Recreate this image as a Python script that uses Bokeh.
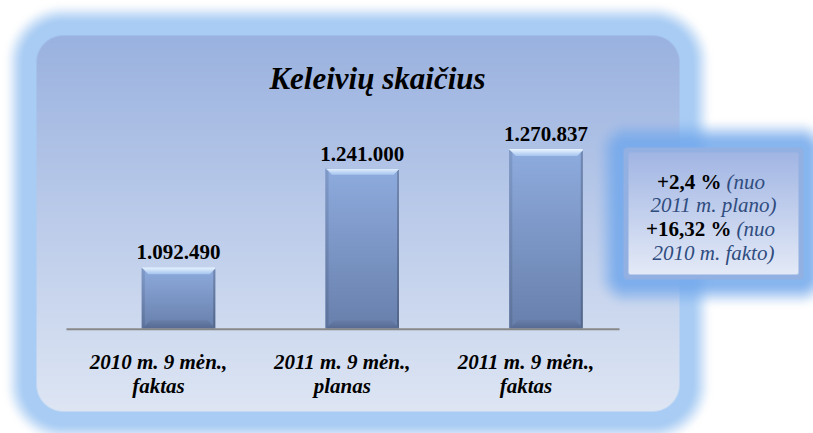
import numpy as np
from bokeh.plotting import figure
from bokeh.models import Range1d
from bokeh.core.properties import value
from bokeh.embed import file_html
from bokeh.resources import INLINE

# ---------------- data ----------------
title_text = "Keleivių skaičius"
cat_line1 = ["2010 m. 9 mėn.,", "2011 m. 9 mėn.,", "2011 m. 9 mėn.,"]
cat_line2 = ["faktas", "planas", "faktas"]
passengers = [1092490, 1241000, 1270837]
axis_base = 1000000
note_bold = ["+2,4 %", "+16,32 %"]
note_italic_a = ["(nuo", "(nuo"]
note_italic_b = ["2011 m. plano)", "2010 m. fakto)"]

value_labels = [f"{v:,}".replace(",", ".") for v in passengers]

# ---------------- geometry ----------------
W, H = 813, 433
PX_PER_CAT = 183.75
x_start = -178.0 / PX_PER_CAT
x_end = x_start + W / PX_PER_CAT
UPP = 1509.0  # value units per pixel
y_start = axis_base - 105 * UPP
y_end = y_start + H * UPP


def X(ix):
    return ix


def Y(iy):
    return H - iy


# ---------------- background raster (decoration) ----------------
def sd_rrect(px, py, x0, y0, x1, y1, r):
    cx, cy = (x0 + x1) / 2, (y0 + y1) / 2
    hx, hy = (x1 - x0) / 2 - r, (y1 - y0) / 2 - r
    qx = np.abs(px - cx) - hx
    qy = np.abs(py - cy) - hy
    out = np.sqrt(np.maximum(qx, 0) ** 2 + np.maximum(qy, 0) ** 2)
    ins = np.minimum(np.maximum(qx, qy), 0)
    return out + ins - r


def fade(d, solid, reach, amax=1.0):
    t = np.clip((d - solid) / (reach - solid), 0, 1)
    return amax * 0.5 * (1 + np.cos(np.pi * t))


def over(base, col, a):
    a = a[..., None]
    return base * (1 - a) + np.asarray(col, float) * a


def pack(rgb, alpha=None):
    h, w = rgb.shape[:2]
    arr = np.empty((h, w, 4), dtype=np.uint8)
    arr[..., :3] = np.clip(rgb, 0, 255).astype(np.uint8)
    arr[..., 3] = 255 if alpha is None else np.clip(alpha * 255, 0, 255).astype(np.uint8)
    return np.ascontiguousarray(arr.view(np.uint32).reshape(h, w)[::-1])


iy, ix = np.mgrid[0:H, 0:W].astype(float)
ix = ix + 0.5
iy = iy + 0.5
bg = np.ones((H, W, 3)) * 255.0

# panel glow + panel
P = (36, 35, 679, 411, 27)
dp = sd_rrect(ix, iy, *P)
bg = over(bg, (168, 204, 244), fade(dp, 11, 34))
tp = np.clip((iy - P[1]) / (P[3] - P[1]), 0, 1)[..., None]
panel_col = np.array([154, 178, 224]) * (1 - tp) + np.array([222, 230, 244]) * tp
a = np.clip(0.5 - dp, 0, 1)[..., None]
bg = bg * (1 - a) + panel_col * a

# side box glow + box
B = (623, 147, 803, 279, 4)
db = sd_rrect(ix, iy, *B)
bg = over(bg, (114, 168, 236), fade(db, 3, 30, 0.85))
bg = over(bg, (146, 176, 226), np.clip(0.5 - db, 0, 1))
BI = (628, 152, 798, 274, 2)
dbi = sd_rrect(ix, iy, *BI)
tb = np.clip((iy - BI[1]) / (BI[3] - BI[1]), 0, 1)[..., None]
box_col = np.array([162, 182, 228]) * (1 - tb) + np.array([228, 234, 247]) * tb
a = np.clip(0.5 - dbi, 0, 1)[..., None]
bg = bg * (1 - a) + box_col * a

bg_img = pack(bg)


# ---------------- bar texture ----------------
def bar_texture(w, h):
    r = np.arange(h)[:, None] * np.ones((1, w))
    c = np.ones((h, 1)) * np.arange(w)[None, :]
    t = (r / max(h - 1, 1))[..., None]
    col = np.array([143, 172, 223]) * (1 - t) + np.array([104, 128, 172]) * t
    dt, db_, dl, dr = r, h - 1 - r, c, w - 1 - c
    st, sb, ss = 7, 8, 3
    m_top = (dt < st) & (dt <= dl) & (dt <= dr)
    k = (dt / st)[..., None]
    topc = np.array([230, 243, 255]) * (1 - k) + np.array([160, 193, 238]) * k
    col = np.where(m_top[..., None], topc, col)
    m_bot = (db_ < sb) & (db_ < dl) & (db_ < dr) & ~m_top
    k2 = (db_ / sb)[..., None]
    botc = np.array([88, 108, 148]) * (1 - k2) + np.array([106, 128, 170]) * k2
    col = np.where(m_bot[..., None], botc, col)
    m_l = (dl < ss) & ~m_top & ~m_bot
    col = np.where(m_l[..., None], col * 0.9, col)
    m_r = (dr < ss) & ~m_top & ~m_bot
    col = np.where(m_r[..., None], col * 0.8, col)
    return pack(col)


# ---------------- figure ----------------
p = figure(width=W, height=H, x_range=Range1d(x_start, x_end), y_range=Range1d(y_start, y_end),
           output_backend="svg", toolbar_location=None, min_border=0,
           x_axis_location=None, y_axis_location=None)
p.outline_line_color = None
p.grid.visible = False
p.background_fill_color = "white"
p.border_fill_color = "white"
p.extra_x_ranges = {"px": Range1d(0, W)}
p.extra_y_ranges = {"py": Range1d(0, H)}

p.image_rgba(image=[bg_img], x=0, y=0, dw=W, dh=H, x_range_name="px", y_range_name="py")

idx = list(range(len(passengers)))
bar_w = 0.4
p.vbar(x=idx, top=passengers, bottom=axis_base, width=bar_w, fill_color="#7D98C8", line_color=None)
tex_w = int(round(bar_w * PX_PER_CAT))
textures = [bar_texture(tex_w, max(int(round((v - axis_base) / UPP)), 2)) for v in passengers]
p.image_rgba(image=textures, x=[i - bar_w / 2 for i in idx], y=[axis_base] * len(idx),
             dw=[bar_w] * len(idx), dh=[v - axis_base for v in passengers])

# baseline
p.segment(x0=[X(66)], x1=[X(619)], y0=[axis_base - 0.8 * UPP], y1=[axis_base - 0.8 * UPP],
          x_range_name="px", line_color="#888888", line_width=2)

serif = value("Liberation Serif")

# value labels
p.text(x=idx, y=[v + 15 * UPP for v in passengers], text=value_labels, text_align="center",
       text_baseline="alphabetic", text_font=serif, text_font_style="bold",
       text_font_size="21px", text_color="black")

# category labels (category slots sit ~20px left of the bars)
p.text(x=idx, y=[Y(361)] * 3, y_range_name="py", text=cat_line1, text_align="center",
       text_baseline="alphabetic", text_font=serif, text_font_style="bold italic",
       text_font_size="21px", text_color="black", x_offset=-20)
p.text(x=idx, y=[Y(385)] * 3, y_range_name="py", text=cat_line2, text_align="center",
       text_baseline="alphabetic", text_font=serif, text_font_style="bold italic",
       text_font_size="21px", text_color="black", x_offset=-20)

# title
p.text(x=[X(377)], y=[Y(78)], x_range_name="px", y_range_name="py", text=[title_text],
       text_align="center", text_baseline="alphabetic", text_font=serif,
       text_font_style="bold italic", text_font_size="31px", text_color="black")

# note box
note_col = "#2F4C7E"
p.text(x=[X(721), X(731)], y=[Y(181), Y(228.5)], x_range_name="px", y_range_name="py",
       text=note_bold, text_align="right", text_baseline="alphabetic", text_font=serif,
       text_font_style="bold", text_font_size="21px", text_color="black")
p.text(x=[X(726), X(736)], y=[Y(181), Y(228.5)], x_range_name="px", y_range_name="py",
       text=note_italic_a, text_align="left", text_baseline="alphabetic", text_font=serif,
       text_font_style="italic", text_font_size="21px", text_color=note_col)
p.text(x=[X(713), X(713)], y=[Y(204.5), Y(252.5)], x_range_name="px", y_range_name="py",
       text=note_italic_b, text_align="center", text_baseline="alphabetic", text_font=serif,
       text_font_style="italic", text_font_size="21px", text_color=note_col)

open("out.html", "w").write(file_html(p, INLINE))
